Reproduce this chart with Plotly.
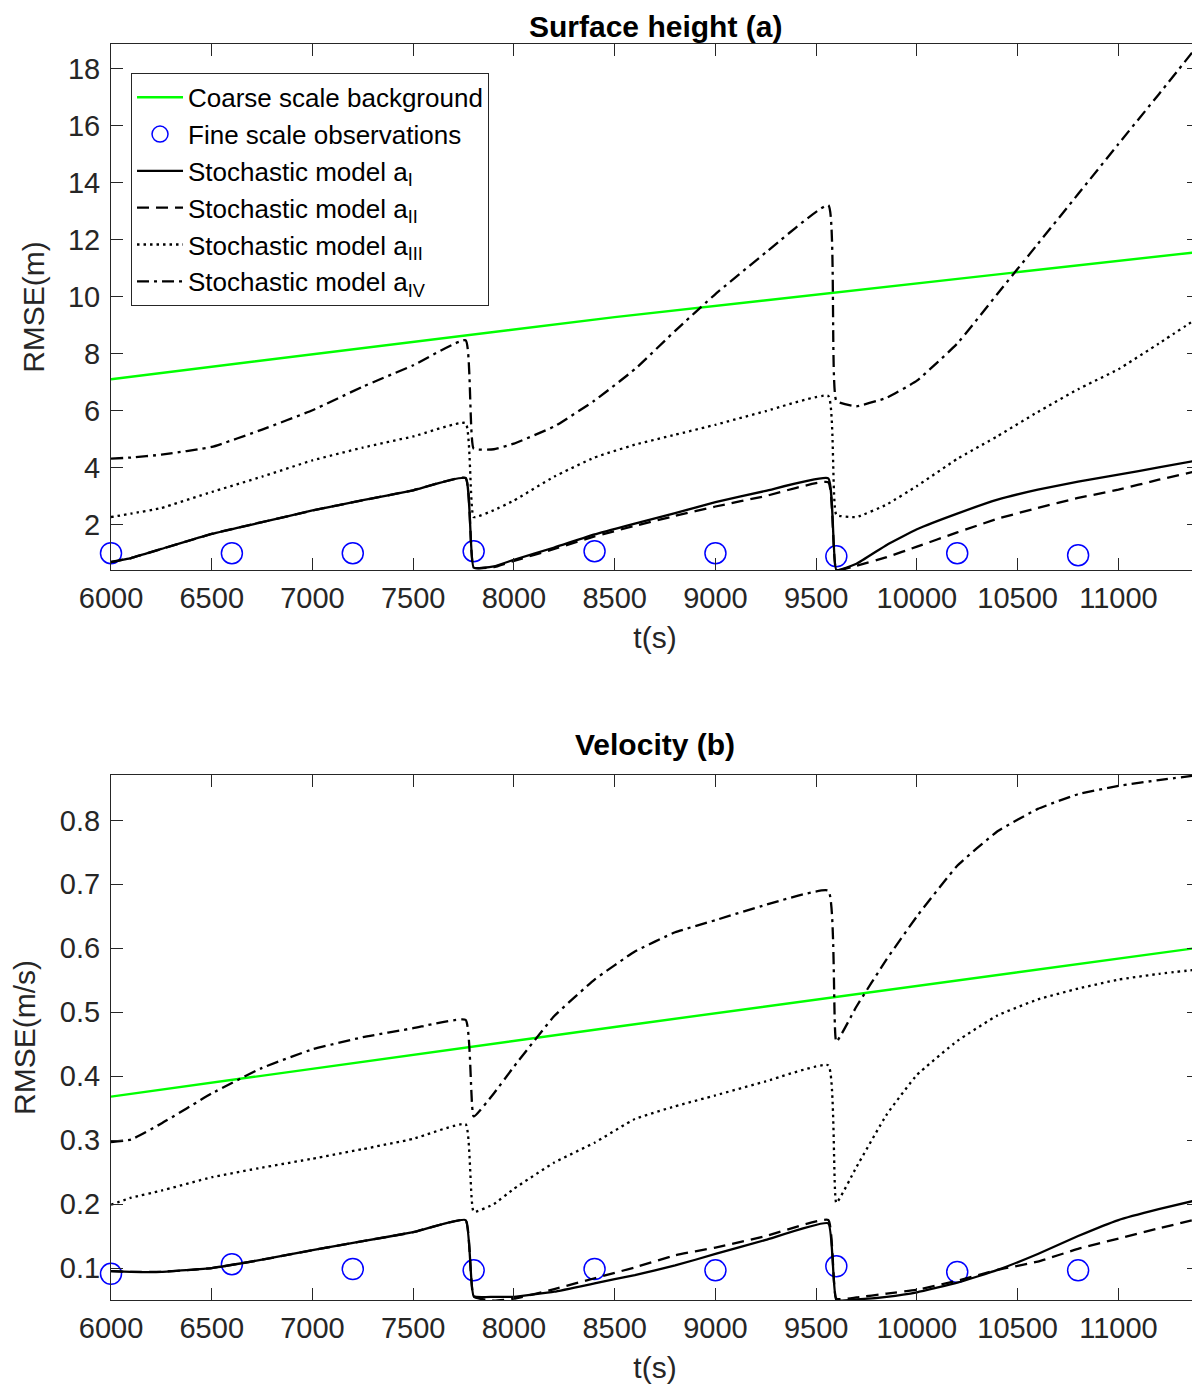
import plotly.graph_objects as go

# time grid of the model runs (s)
t = [6000, 6100, 6250, 6500, 6750, 7000, 7250, 7500, 7760, 7800,
     7900, 8000, 8200, 8400, 8600, 8800, 9000, 9250, 9560, 9600,
     9700, 9850, 10000, 10200, 10400, 10600, 10800, 11000, 11200, 11400]

# observation times (s)
t_obs = [6000, 6600, 7200, 7800, 8400, 9000, 9600, 10200, 10800]

# coarse background (straight line)
t_bg = [6000, 8500, 11400]

x_ticks = [6000, 6500, 7000, 7500, 8000, 8500, 9000, 9500, 10000, 10500, 11000]
x_ticktext = ["6000", "6500", "7000", "7500", "8000", "8500", "9000", "9500",
              "10000", "10500", "11000"]

# --- surface height RMSE (m) ---
h_bg = [7.1, 9.28, 11.57]
h_obs = [0.99, 0.99, 0.99, 1.06, 1.06, 0.99, 0.88, 0.99, 0.92]
h_a1 = [0.68, 0.82, 1.14, 1.67, 2.08, 2.49, 2.85, 3.2, 3.63, 0.48,
        0.53, 0.76, 1.19, 1.65, 2.03, 2.4, 2.78, 3.18, 3.62, 0.4,
        0.62, 1.28, 1.83, 2.38, 2.87, 3.22, 3.5, 3.75, 4.0, 4.26]
h_a2 = [0.68, 0.82, 1.14, 1.67, 2.08, 2.49, 2.85, 3.2, 3.63, 0.48,
        0.5, 0.72, 1.14, 1.58, 1.95, 2.3, 2.63, 3.0, 3.48, 0.4,
        0.55, 0.85, 1.22, 1.72, 2.2, 2.58, 2.93, 3.22, 3.57, 3.89]
h_a3 = [2.26, 2.38, 2.58, 3.14, 3.68, 4.25, 4.7, 5.09, 5.56, 2.26,
        2.5, 2.84, 3.68, 4.35, 4.8, 5.15, 5.5, 5.98, 6.51, 2.34,
        2.26, 2.7, 3.35, 4.3, 5.1, 5.95, 6.75, 7.45, 8.35, 9.28]
h_a4 = [4.31, 4.35, 4.45, 4.72, 5.33, 6.01, 6.84, 7.59, 8.47, 4.66,
        4.64, 4.84, 5.44, 6.35, 7.45, 8.8, 10.09, 11.55, 13.21, 6.34,
        6.15, 6.45, 7.05, 8.35, 10.1, 11.85, 13.6, 15.36, 17.1, 18.87]

# --- velocity RMSE (m/s) ---
u_bg = [0.368, 0.477, 0.601]
u_obs = [0.091, 0.106, 0.0985, 0.0964, 0.0985, 0.0964, 0.1027, 0.0938, 0.0964]
u_a1 = [0.095, 0.094, 0.094, 0.1, 0.113, 0.128, 0.142, 0.156, 0.175, 0.056,
        0.055, 0.055, 0.063, 0.076, 0.089, 0.104, 0.122, 0.144, 0.17, 0.05,
        0.051, 0.055, 0.062, 0.077, 0.097, 0.122, 0.15, 0.175, 0.192, 0.207]
u_a2 = [0.095, 0.094, 0.094, 0.1, 0.113, 0.128, 0.142, 0.156, 0.175, 0.055,
        0.049, 0.052, 0.067, 0.084, 0.101, 0.12, 0.132, 0.15, 0.175, 0.052,
        0.054, 0.06, 0.066, 0.08, 0.097, 0.11, 0.13, 0.146, 0.162, 0.177]
u_a3 = [0.199, 0.21, 0.221, 0.242, 0.257, 0.271, 0.286, 0.302, 0.325, 0.188,
        0.2, 0.224, 0.265, 0.296, 0.333, 0.353, 0.37, 0.392, 0.417, 0.202,
        0.258, 0.34, 0.402, 0.455, 0.495, 0.52, 0.537, 0.551, 0.56, 0.567]
u_a4 = [0.297, 0.301, 0.326, 0.373, 0.413, 0.442, 0.461, 0.475, 0.488, 0.337,
        0.373, 0.415, 0.494, 0.551, 0.595, 0.625, 0.644, 0.668, 0.69, 0.454,
        0.509, 0.583, 0.65, 0.729, 0.783, 0.818, 0.841, 0.854, 0.863, 0.871]

labels = ["Coarse scale background", "Fine scale observations",
          "Stochastic model a<sub>I</sub>", "Stochastic model a<sub>II</sub>",
          "Stochastic model a<sub>III</sub>", "Stochastic model a<sub>IV</sub>"]

FONT = "Liberation Sans, Arial, sans-serif"
AX = "#262626"
GREEN = "#00ff00"
styles = ["solid", "12px,7px", "2.5px,4px", "12px,5px,3px,5px"]

fig = go.Figure()


def add_panel(xa, ya, bg, obs, models, legend):
    fig.add_trace(go.Scatter(x=t_bg, y=bg, mode="lines", name=labels[0],
                             line=dict(color=GREEN, width=2.4),
                             xaxis=xa, yaxis=ya, showlegend=legend))
    fig.add_trace(go.Scatter(x=t_obs, y=obs, mode="markers", name=labels[1],
                             marker=dict(symbol="circle-open", size=21,
                                         color="#0000ff", line=dict(width=1.5)),
                             cliponaxis=False,
                             xaxis=xa, yaxis=ya, showlegend=legend))
    for k, vals in enumerate(models):
        fig.add_trace(go.Scatter(x=t, y=vals, mode="lines", name=labels[k + 2],
                                 line=dict(color="black", width=2.3, dash=styles[k],
                                           shape="spline", smoothing=0.35),
                                 xaxis=xa, yaxis=ya, showlegend=legend))


add_panel("x", "y", h_bg, h_obs, [h_a1, h_a2, h_a3, h_a4], True)
add_panel("x2", "y2", u_bg, u_obs, [u_a1, u_a2, u_a3, u_a4], False)

xcommon = dict(range=[6000, 11400], tickvals=x_ticks, ticktext=x_ticktext,
               ticks="inside", ticklen=12, tickwidth=1, tickcolor=AX,
               showline=True, linecolor=AX, linewidth=1, mirror="ticks",
               showgrid=False, zeroline=False,
               tickfont=dict(family=FONT, size=29, color=AX),
               ticklabelstandoff=2,
               title=dict(text="t(s)", font=dict(family=FONT, size=30, color=AX),
                          standoff=14))
ycommon = dict(ticks="inside", ticklen=12, tickwidth=1, tickcolor=AX,
               showline=True, linecolor=AX, linewidth=1, mirror="ticks",
               showgrid=False, zeroline=False,
               tickfont=dict(family=FONT, size=29, color=AX),
               ticklabelstandoff=4)

# the page adds an 8px body margin, so the figure is 8px smaller on each side
fig.update_layout(
    width=1192, height=1385,
    margin=dict(l=103, r=1, t=36, b=93),
    paper_bgcolor="white", plot_bgcolor="white",
    xaxis=dict(xcommon, domain=[0, 1], anchor="y"),
    yaxis=dict(ycommon, domain=[0.5812, 1], anchor="x",
               range=[0.4, 18.87], tickvals=list(range(2, 19, 2)),
               title=dict(text="RMSE(m)", font=dict(family=FONT, size=30, color=AX),
                          standoff=14)),
    xaxis2=dict(xcommon, domain=[0, 1], anchor="y2"),
    yaxis2=dict(ycommon, domain=[0, 0.418], anchor="x2",
                range=[0.05, 0.871],
                tickvals=[0.1, 0.2, 0.3, 0.4, 0.5, 0.6, 0.7, 0.8],
                ticktext=["0.1", "0.2", "0.3", "0.4", "0.5", "0.6", "0.7", "0.8"],
                title=dict(text="RMSE(m/s)", font=dict(family=FONT, size=30, color=AX),
                           standoff=26)),
    legend=dict(x=0.0184, y=0.977, xanchor="left", yanchor="top",
                bgcolor="white", bordercolor=AX, borderwidth=1,
                font=dict(family=FONT, size=26, color="black"),
                itemwidth=46, tracegroupgap=0),
    showlegend=True,
    annotations=[
        dict(text="<b>Surface height (a)</b>", x=0.5, y=1.0143, xref="paper", yref="paper",
             xanchor="center", yanchor="middle", showarrow=False,
             font=dict(family=FONT, size=30, color="black")),
        dict(text="<b>Velocity (b)</b>", x=0.5, y=0.4419, xref="paper", yref="paper",
             xanchor="center", yanchor="middle", showarrow=False,
             font=dict(family=FONT, size=30, color="black")),
    ],
)

fig.write_html("out.html")
